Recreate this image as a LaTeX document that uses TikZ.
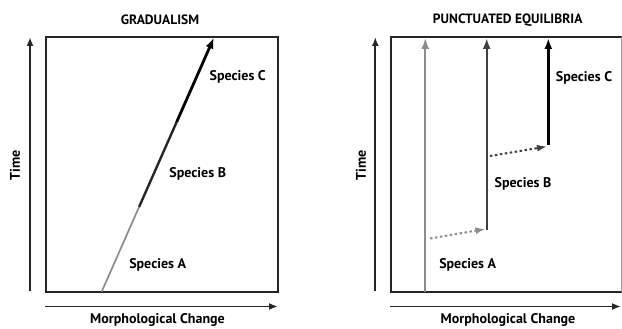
\documentclass[tikz,border=0pt]{standalone}
\usepackage{fontspec}
\setmainfont{PT Sans}
\usetikzlibrary{arrows.meta}
\begin{document}
\begin{tikzpicture}[x=1pt,y=-1pt,
  lbl/.style={font=\bfseries\fontsize{14}{15}\selectfont, inner sep=0pt},
  ttl/.style={font=\bfseries\fontsize{13.5}{14}\selectfont, inner sep=0pt},
  frame/.style={draw=black!85, line width=2.2pt},
  axis/.style={draw=black!85, line width=1.8pt, -{Latex[length=9pt,width=7pt]}},
  evo/.style={line width=#1, -{Latex[length=11pt,width=8pt]}},
  dotarrow/.style={line width=2pt, dash pattern=on 2.5pt off 2.5pt, -{Latex[length=10pt,width=7pt]}}
]
\useasboundingbox (0,0) rectangle (622,329);
% ---------------- Gradualism ----------------
\draw[frame] (45.7,36.7) rectangle (277.7,291.7);
\coordinate (gy0) at (30,291);
\coordinate (gy1) at (30,37);
\draw[axis] (gy0) -- (gy1);
\coordinate (gx0) at (45,306.5);
\coordinate (gx1) at (278,306.5);
\draw[axis] (gx0) -- (gx1);
\node[ttl] (gt) at (160,20) {GRADUALISM};
\node[lbl, rotate=90] (gtime) at (15,165) {Time};
\node[lbl] (gmc) at (157.5,320) {Morphological Change};
\coordinate (ga) at (101.7,291.7);
\coordinate (gb) at (139.1,206.9);
\coordinate (gc) at (176.6,122.1);
\coordinate (gd) at (214,37.5);
\draw[black!45, line width=1.7pt] (ga) -- (gb);
\draw[black!85, line width=2.4pt] (gb) -- (gc);
\draw[black, evo=2.8pt] (gc) -- (gd);
\node[lbl] (gsa) at (157.7,265) {Species A};
\node[lbl] (gsb) at (197.7,174.3) {Species B};
\node[lbl] (gsc) at (237.7,77.3) {Species C};
% ---------------- Punctuated equilibria ----------------
\draw[frame] (622,36.7) -- (391,36.7) -- (391,291.7) -- (622,291.7);
\draw[black!40, line width=1pt] (621,36.7) -- (621,291.7);
\coordinate (py0) at (375.3,291);
\coordinate (py1) at (375.3,37);
\draw[axis] (py0) -- (py1);
\coordinate (px0) at (390,306.5);
\coordinate (px1) at (621,306.5);
\draw[axis] (px0) -- (px1);
\node[ttl] (pt) at (507.7,20) {PUNCTUATED EQUILIBRIA};
\node[lbl, rotate=90] (ptime) at (361,165) {Time};
\node[lbl] (pmc) at (508,320) {Morphological Change};
% species A
\coordinate (pa0) at (425.3,291.7);
\coordinate (pa1) at (425.3,38);
\draw[black!45, evo=2pt] (pa0) -- (pa1);
% species B
\coordinate (pb0) at (486.7,230);
\coordinate (pb1) at (486.7,38);
\draw[black!75, evo=2.4pt] (pb0) -- (pb1);
% species C
\coordinate (pc0) at (548.3,145.5);
\coordinate (pc1) at (548.3,38);
\draw[black, evo=3.2pt] (pc0) -- (pc1);
% dotted transitions
\coordinate (pd0) at (430,238.5);
\coordinate (pd1) at (485.5,229);
\draw[black!45, dotarrow] (pd0) -- (pd1);
\coordinate (pe0) at (490,156);
\coordinate (pe1) at (547,146.5);
\draw[black!75, dotarrow] (pe0) -- (pe1);
\node[lbl] (psa) at (467.7,265) {Species A};
\node[lbl] (psb) at (523,184) {Species B};
\node[lbl] (psc) at (584,78) {Species C};
\end{tikzpicture}
\end{document}
